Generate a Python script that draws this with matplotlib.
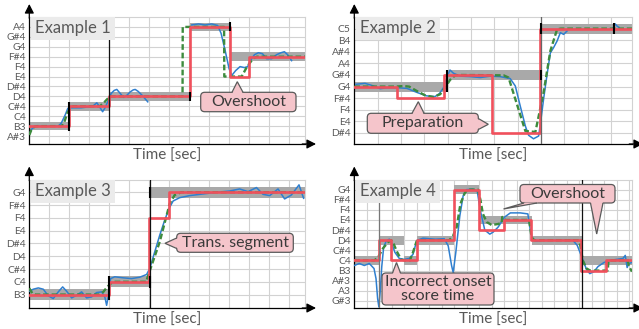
import matplotlib
matplotlib.use("Agg")
import matplotlib.pyplot as plt
import numpy as np
from matplotlib.patches import FancyBboxPatch, Polygon, Rectangle
from matplotlib.transforms import Affine2D

plt.rcParams["font.family"] = ["Lato", "DejaVu Sans"]

W, H = 639, 329

RED = "#f0505c"
GREEN = "#3d8b3d"
BLUE = "#2f7fcf"
BAR = "#a9a9a9"
GRID = "#d2d2d2"
TXT = "#595959"
PINK = "#f5c5cb"
EDGE = "#5a5a5a"
NAN = np.nan

# ---------------- Example 1 ----------------
EX1_NOTES = [58, 59, 60, 61, 62, 63, 64, 65, 66, 67, 68, 69]
EX1_LABELS = ["A#3", "B3", "C4", "C#4", "D4", "D#4", "E4", "F4", "F#4", "G4", "G#4", "A4"]
EX1_SCORE_ON = [0.0, 2.0, 4.0, 8.03, 10.07]
EX1_SCORE_OFF = [2.0, 4.0, 8.03, 10.07, 13.8]
EX1_SCORE_PITCH = [59, 61, 62, 69, 66]
EX1_EST_T = [0.0, 1.97, 4.0, 8.03, 10.03, 10.98]
EX1_EST_P = [59, 61, 62, 69, 64, 66]
EX1_REF_T = [0.0, 0.1, 0.25, 0.4, 1.62, 1.75, 1.9, 2.05, 2.2, 3.53, 3.75, 4.03,
             7.67, 7.68, 9.75, 9.76, 10.63, 10.9, 11.22, 11.4, 13.8]
EX1_REF_P = [58.1, 58.6, 58.95, 59.0, 59.0, 59.4, 60.3, 60.85, 61.0, 61.0, 61.4, 62.0,
             62.0, 69.0, 69.0, 64.0, 64.0, 65.0, 65.85, 66.0, 66.0]
EX1_F0_T = [0.0, 0.12, 0.3, 1.45, 1.6, 1.79, 1.93, 2.1, 2.6, 3.0, 3.2, 3.38, 3.52, 3.67,
            3.82, 3.95, 4.1, 4.25, 4.38, 4.55, 4.72, 4.88, 5.05, 5.2, 5.3, 5.45, 5.65, 5.93,
            NAN,
            8.13, 8.47, 8.8, 9.13, 9.43, 9.6, 9.8, 10.0, 10.13, 10.33, 10.55, 10.77, 10.93,
            11.1, 11.27, 11.47, 11.67, 11.88, 12.13, 12.38, 12.6, 12.77, 12.93, 13.13]
EX1_F0_P = [58.2, 58.7, 59.0, 59.0, 59.3, 60.1, 60.8, 60.85, 60.85, 60.95, 61.05, 61.35,
            60.95, 60.45, 60.95, 61.6, 62.3, 62.6, 62.7, 62.3, 61.9, 62.1, 62.45, 62.65,
            62.7, 62.5, 62.1, 61.45,
            NAN,
            69.2, 69.3, 69.2, 69.3, 69.15, 68.35, 66.65, 64.8, 64.1, 64.6, 65.0, 64.9, 65.0,
            65.7, 66.2, 66.4, 66.3, 65.8, 65.8, 66.2, 66.4, 66.5, 66.2, 65.6]
EX1_ONSETS = [4.0]
EX1_ONSET_COLORS = ["#111111"]
EX1_MARK_T = [2.0, 8.03, 10.07]
EX1_MARK_LO = [58.55, 61.55, 68.55]
EX1_MARK_HI = [61.45, 62.45, 69.45]

# ---------------- Example 2 ----------------
EX2_NOTES = [63, 64, 65, 66, 67, 68, 69, 70, 71, 72]
EX2_LABELS = ["D#4", "E4", "F4", "F#4", "G4", "G#4", "A4", "A#4", "B4", "C5"]
EX2_SCORE_ON = [0.0, 3.96, 8.0]
EX2_SCORE_OFF = [3.96, 8.0, 11.9]
EX2_SCORE_PITCH = [67, 68, 72]
EX2_EST_T = [0.0, 1.85, 3.85, 5.9, 7.94]
EX2_EST_P = [67, 66, 68, 63, 72]
EX2_REF_T = [0.0, 1.8, 2.1, 2.35, 2.68, 3.03, 3.39, 3.68, 3.89, 4.1, 4.32, 4.6, 6.4, 6.61,
             7.33, 7.76, 8.11, 8.4, 8.69, 8.85, 11.9]
EX2_REF_P = [67.0, 67.0, 67.05, 67.0, 66.62, 66.25, 66.1, 66.34, 66.9, 67.57, 67.97, 68.0,
             67.97, 67.78, 63.17, 63.09, 66.48, 70.07, 71.94, 72.0, 72.0]
EX2_F0_T = [0.07, 0.46, 0.75, 1.11, 1.39, 1.82, 2.25, 2.68, 3.1, 3.46, 3.65, 3.82, 3.99,
            4.1, 4.25, 4.54, 4.97, 5.4, 5.83, 6.25, 6.68, 6.9, 7.11, 7.33, 7.47, 7.68, 7.9,
            8.0, 8.11, 8.25, 8.4, 8.54, 8.69, 8.83, 8.97, 9.12,
            NAN,
            11.1, 11.18, 11.27, 11.35]
EX2_F0_P = [67.2, 67.28, 67.1, 66.82, 66.9, 66.9, 66.85, 66.5, 66.2, 66.14, 66.4, 66.9,
            67.9, 68.43, 68.15, 67.9, 67.86, 67.78, 67.9, 67.86, 67.69, 67.05, 65.33, 63.6,
            62.8, 62.5, 62.74, 64.18, 65.9, 67.9, 69.9, 70.36, 70.93, 71.65, 71.5, 71.8,
            NAN,
            72.1, 72.4, 72.2, 72.1]
EX2_ONSETS = [8.0]
EX2_ONSET_COLORS = ["#666666"]
EX2_MARK_T = [3.96, 8.0, 8.0, 11.12]
EX2_MARK_LO = [66.55, 67.55, 71.55, 71.55]
EX2_MARK_HI = [68.45, 68.45, 72.45, 72.45]

# ---------------- Example 3 ----------------
EX3_NOTES = [59, 60, 61, 62, 63, 64, 65, 66, 67]
EX3_LABELS = ["B3", "C4", "C#4", "D4", "D#4", "E4", "F4", "F#4", "G4"]
EX3_SCORE_ON = [0.0, 4.0, 6.03]
EX3_SCORE_OFF = [4.0, 6.03, 13.8]
EX3_SCORE_PITCH = [59, 60, 67]
EX3_EST_T = [0.0, 3.97, 5.98, 6.98]
EX3_EST_P = [59, 60, 65, 67]
EX3_REF_T = [0.0, 0.15, 0.3, 3.5, 3.7, 3.9, 4.1, 4.3, 5.85, 5.95, 6.53, 7.03, 7.28, 7.6, 13.8]
EX3_REF_P = [59.5, 59.1, 59.0, 59.0, 59.2, 59.6, 59.9, 60.0, 60.0, 60.5, 63.13, 66.13,
             66.79, 67.0, 67.0]
EX3_F0_T = [0.0, 0.2, 0.45, 0.7, 0.95, 1.2, 1.45, 1.67, 1.87, 2.12, 2.37, 2.62, 2.87, 3.12,
            3.37, 3.62, 3.78, 3.87, 3.95, 4.07, 4.28, 4.7, 5.12, 5.53, 5.87, 6.03, 6.28,
            6.53, 6.78, 7.0, 7.2, 7.53, 8.03, 8.7, 9.37, 10.03, 10.53, 10.95, 11.37, 11.7,
            12.03, 12.45, 12.78, 13.12, 13.5, 13.73]
EX3_F0_P = [59.26, 59.42, 59.52, 59.42, 58.9, 58.69, 59.21, 59.6, 59.26, 58.74, 58.95,
            59.21, 58.74, 58.82, 59.16, 59.21, 58.82, 58.16, 58.82, 60.25, 60.39, 60.31,
            60.25, 60.36, 60.57, 61.04, 62.35, 63.65, 64.83, 65.75, 66.32, 66.58, 66.74,
            66.87, 67.0, 67.1, 67.26, 67.05, 67.37, 66.84, 66.74, 67.26, 66.48, 66.79,
            67.58, 66.53]
EX3_ONSETS = [6.03]
EX3_ONSET_COLORS = ["#111111"]
EX3_MARK_T = [4.0, 6.03, 6.03]
EX3_MARK_LO = [58.55, 59.55, 66.55]
EX3_MARK_HI = [60.45, 60.45, 67.45]

# ---------------- Example 4 ----------------
EX4_NOTES = [56, 57, 58, 59, 60, 61, 62, 63, 64, 65, 66, 67]
EX4_LABELS = ["G#3", "A3", "A#3", "B3", "C4", "C#4", "D4", "D#4", "E4", "F4", "F#4", "G4"]
EX4_SCORE_ON = [0.0, 2.0, 3.97, 4.99, 8.0, 10.0, 14.2, 18.2]
EX4_SCORE_OFF = [2.0, 3.97, 4.99, 8.0, 10.0, 14.2, 18.2, 22.24]
EX4_SCORE_PITCH = [60, 62, 60, 62, 67, 64, 62, 60]
EX4_EST_T = [0.0, 1.95, 2.93, 4.99, 7.98, 10.02, 11.95, 14.12, 18.12, 20.19]
EX4_EST_P = [60, 62, 60, 62, 67, 63, 64, 62, 59, 60]
EX4_REF_T = [0.0, 1.6, 1.9, 2.3, 2.7, 2.95, 3.1, 3.4, 3.75, 4.0, 4.45, 4.7, 4.99, 5.2, 7.6,
             7.9, 8.2, 8.5, 8.86, 9.1, 9.9, 10.1, 10.3, 10.6, 11.0, 11.5, 11.8, 11.85, 12.1,
             14.0, 14.1, 14.2, 14.4, 17.9, 18.1, 18.3, 18.6, 18.9, 20.3, 20.35, 20.5, 21.9,
             22.0, 22.24]
EX4_REF_P = [60.0, 60.0, 60.3, 61.2, 61.8, 62.0, 61.8, 60.9, 60.1, 60.0, 60.0, 60.8, 61.9,
             62.0, 62.0, 62.4, 63.3, 65.6, 66.7, 67.0, 67.0, 66.0, 64.6, 63.8, 63.5, 63.6,
             63.7, 64.3, 64.0, 64.0, 63.1, 62.3, 62.0, 62.0, 61.5, 60.0, 59.2, 59.0, 59.0,
             59.9, 60.0, 60.0, 59.4, 58.9]
EX4_F0_T = [0.0, 0.4, 0.8, 1.2, 1.58, 1.74, 1.87, 1.97, 2.08, 2.2, 2.35, 2.55, 2.8, 3.0,
            3.25, 3.6, 4.0, 4.4, 4.7, 4.9, 5.05, 5.5, 6.5, 7.2, 7.52, 7.79, 7.92, 8.13, 8.45,
            8.72, 8.99, 9.5, 9.85, 10.1, 10.45, 10.85, 11.12, 11.52, 12.05, 12.5, 13.3, 13.9,
            14.1, 14.25, 14.6, 15.0, 16.5, 17.5, 17.85, 18.2, 18.6, 18.86, 19.2, 19.52, 20.0,
            20.45, 21.0, 21.52, 21.7, 21.85, 22.0, 22.24]
EX4_F0_P = [59.5, 59.7, 59.5, 59.7, 59.2, 58.2, 56.2, 55.4, 57.0, 59.4, 61.3, 61.9, 62.1,
            61.7, 60.8, 60.2, 60.1, 60.2, 60.6, 61.5, 62.0, 62.2, 62.1, 62.15, 61.45, 59.5,
            58.8, 60.8, 64.4, 66.4, 67.0, 67.05, 66.8, 64.9, 63.0, 62.6, 62.8, 63.3, 64.3,
            64.7, 64.7, 64.6, 63.0, 62.2, 61.9, 62.0, 62.0, 62.0, 61.5, 60.4, 59.1, 58.7,
            58.9, 59.4, 59.8, 60.0, 60.1, 60.2, 60.5, 59.3, 59.7, 59.8]
EX4_ONSETS = [2.0, 18.2]
EX4_ONSET_COLORS = ["#777777", "#111111"]
EX4_MARK_T, EX4_MARK_LO, EX4_MARK_HI = [], [], []

PANELS = [
    dict(title="Example 1", box=(29.3, 17, 305, 144), xmax=13.8, ylim=(57.2, 70.0),
         notes=EX1_NOTES, labels=EX1_LABELS, on=EX1_SCORE_ON, off=EX1_SCORE_OFF,
         pitch=EX1_SCORE_PITCH, est_t=EX1_EST_T, est_p=EX1_EST_P, ref_t=EX1_REF_T,
         ref_p=EX1_REF_P, f0_t=EX1_F0_T, f0_p=EX1_F0_P, onsets=EX1_ONSETS,
         onset_colors=EX1_ONSET_COLORS, mt=EX1_MARK_T, mlo=EX1_MARK_LO, mhi=EX1_MARK_HI),
    dict(title="Example 2", box=(354.3, 17, 632, 144), xmax=11.9, ylim=(62.05, 73.0),
         notes=EX2_NOTES, labels=EX2_LABELS, on=EX2_SCORE_ON, off=EX2_SCORE_OFF,
         pitch=EX2_SCORE_PITCH, est_t=EX2_EST_T, est_p=EX2_EST_P, ref_t=EX2_REF_T,
         ref_p=EX2_REF_P, f0_t=EX2_F0_T, f0_p=EX2_F0_P, onsets=EX2_ONSETS,
         onset_colors=EX2_ONSET_COLORS, mt=EX2_MARK_T, mlo=EX2_MARK_LO, mhi=EX2_MARK_HI),
    dict(title="Example 3", box=(29.3, 179.5, 305, 308), xmax=13.8, ylim=(57.95, 68.0),
         notes=EX3_NOTES, labels=EX3_LABELS, on=EX3_SCORE_ON, off=EX3_SCORE_OFF,
         pitch=EX3_SCORE_PITCH, est_t=EX3_EST_T, est_p=EX3_EST_P, ref_t=EX3_REF_T,
         ref_p=EX3_REF_P, f0_t=EX3_F0_T, f0_p=EX3_F0_P, onsets=EX3_ONSETS,
         onset_colors=EX3_ONSET_COLORS, mt=EX3_MARK_T, mlo=EX3_MARK_LO, mhi=EX3_MARK_HI),
    dict(title="Example 4", box=(354.3, 179.5, 632, 308), xmax=22.24, ylim=(55.3, 68.0),
         notes=EX4_NOTES, labels=EX4_LABELS, on=EX4_SCORE_ON, off=EX4_SCORE_OFF,
         pitch=EX4_SCORE_PITCH, est_t=EX4_EST_T, est_p=EX4_EST_P, ref_t=EX4_REF_T,
         ref_p=EX4_REF_P, f0_t=EX4_F0_T, f0_p=EX4_F0_P, onsets=EX4_ONSETS,
         onset_colors=EX4_ONSET_COLORS, mt=EX4_MARK_T, mlo=EX4_MARK_LO, mhi=EX4_MARK_HI),
]

# callouts in pixel coords (top-left origin): text, box (x0, y0, x1, y1), tails (b0, b1, tip)
CALLOUTS = [
    ("Overshoot", (200.7, 92.3, 296, 111.7),
     [((232, 92.3), (243, 92.3), (237.3, 81.7))]),
    ("Preparation", (367.3, 113.3, 478.3, 133.3),
     [((412, 113.3), (424, 113.3), (418.3, 101.7)),
      ((478.3, 118.5), (478.3, 129.5), (488.3, 124.3))]),
    ("Trans. segment", (176.7, 233.3, 293.3, 252.3),
     [((176.7, 238), (176.7, 248.5), (165, 243.3))]),
    ("Incorrect onset\nscore time", (382, 273, 494, 305),
     [((392.5, 273), (400.5, 273), (396.5, 262.5))]),
    ("Overshoot", (520, 184.5, 615, 203),
     [((524, 203), (537, 203), (503.5, 209)),
      ((590.5, 203), (603, 203), (596.7, 234))]),
]


def draw_panel(fig, px, p):
    l, t, r, b = p["box"]
    ax = fig.add_axes([l / W, 1 - b / H, (r - l) / W, (b - t) / H])
    ax.set_xlim(0, p["xmax"])
    ax.set_ylim(*p["ylim"])
    ax.set_xticks(np.arange(0, p["xmax"], 1.0))
    ax.set_xticklabels([])
    ax.set_yticks(p["notes"])
    ax.set_yticklabels(p["labels"], fontsize=7.4, color=TXT)
    ax.tick_params(length=0, pad=2.5)
    ax.grid(color=GRID, lw=0.8)
    ax.set_axisbelow(True)
    for s in ("top", "right"):
        ax.spines[s].set_color(GRID)
        ax.spines[s].set_linewidth(0.8)
    for s in ("left", "bottom"):
        ax.spines[s].set_color("black")
        ax.spines[s].set_linewidth(0.9)

    widths = [b_ - a_ for a_, b_ in zip(p["on"], p["off"])]
    ax.barh(p["pitch"], widths, left=p["on"], height=0.85, color=BAR, zorder=2)
    ax.plot(p["f0_t"], p["f0_p"], color=BLUE, lw=1.1, zorder=3)
    ax.plot(p["ref_t"], p["ref_p"], color=GREEN, lw=1.7, ls=(0, (2.4, 1.2)), zorder=4)
    ax.step(p["est_t"] + [p["xmax"]], p["est_p"] + [p["est_p"][-1]], where="post",
            color=RED, lw=1.9, zorder=5)
    for x, c in zip(p["onsets"], p["onset_colors"]):
        ax.axvline(x, color=c, lw=0.9, zorder=6)
    if p["mt"]:
        ax.vlines(p["mt"], p["mlo"], p["mhi"], color="black", lw=1.5, zorder=6)

    ax.set_xlabel("Time [sec]", fontsize=11, color=TXT, labelpad=1.2)

    h, w = b - t, r - l
    arrow = dict(arrowstyle="-|>,head_length=0.55,head_width=0.28", color="black",
                 lw=0.9, shrinkA=0, shrinkB=0)
    ax.annotate("", xy=(0, 1 + 13 / h), xytext=(0, 0.99), xycoords="axes fraction",
                arrowprops=arrow, annotation_clip=False)
    ax.annotate("", xy=(1 + 11 / w, 0), xytext=(0.99, 0), xycoords="axes fraction",
                arrowprops=arrow, annotation_clip=False)

    # title box
    fig.add_artist(Rectangle((l + 1.5, t), 84, 23, fc="#ebebeb", ec="none",
                             transform=px, zorder=8))
    fig.text((l + 1.5 + 42) / W, 1 - (t + 11.5) / H, p["title"], fontsize=12,
             color=TXT, ha="center", va="center", zorder=9)
    return ax


def callout(fig, px, text, box, tails):
    x0, y0, x1, y1 = box
    fig.add_artist(FancyBboxPatch((x0, y0), x1 - x0, y1 - y0,
                                  boxstyle="round,pad=0,rounding_size=4",
                                  fc=PINK, ec=EDGE, lw=0.9, transform=px, zorder=10))
    for b0, b1, tip in tails:
        b0, b1, tip = np.array(b0), np.array(b1), np.array(tip)
        n = (b0 + b1) / 2 - tip
        n = n / np.hypot(*n)
        fig.add_artist(Polygon([b0 + 1.6 * n, tip, b1 + 1.6 * n], closed=True,
                               fc=PINK, ec="none", transform=px, zorder=11))
        fig.add_artist(Polygon([b0, tip, b1], closed=False, fill=False, ec=EDGE,
                               lw=0.9, joinstyle="miter", transform=px, zorder=12))
    fig.text((x0 + x1) / 2 / W, 1 - (y0 + y1) / 2 / H, text, fontsize=11.5,
             color="#3a3a3a", ha="center", va="center", linespacing=0.95, zorder=13)


fig = plt.figure(figsize=(W / 100, H / 100), dpi=100)
fig.patch.set_facecolor("white")
px = Affine2D().scale(1 / W, -1 / H).translate(0, 1) + fig.transFigure

for p in PANELS:
    draw_panel(fig, px, p)
for text, box, tails in CALLOUTS:
    callout(fig, px, text, box, tails)

fig.savefig("out.png", dpi=100)
